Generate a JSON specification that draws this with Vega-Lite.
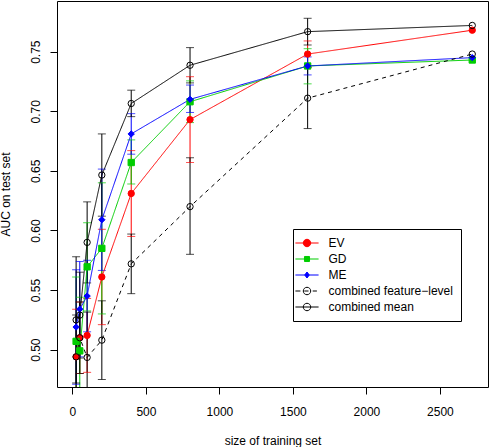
{
  "$schema": "https://vega.github.io/schema/vega-lite/v6.json",
  "width": 431,
  "height": 386,
  "autosize": "none",
  "padding": {"left": 57, "top": 1, "right": 1, "bottom": 60},
  "background": "white",
  "data": {"values": [
    {"s": "EV", "n": 25, "auc": 0.494, "lo": 0.454, "hi": 0.534},
    {"s": "EV", "n": 50, "auc": 0.510, "lo": 0.480, "hi": 0.540},
    {"s": "EV", "n": 100, "auc": 0.512, "lo": 0.481, "hi": 0.543},
    {"s": "EV", "n": 200, "auc": 0.561, "lo": 0.521, "hi": 0.601},
    {"s": "EV", "n": 400, "auc": 0.631, "lo": 0.595, "hi": 0.667},
    {"s": "EV", "n": 800, "auc": 0.693, "lo": 0.657, "hi": 0.729},
    {"s": "EV", "n": 1600, "auc": 0.748, "lo": 0.737, "hi": 0.759},
    {"s": "EV", "n": 2720, "auc": 0.768, "lo": null, "hi": null},
    {"s": "GD", "n": 25, "auc": 0.507, "lo": 0.453, "hi": 0.561},
    {"s": "GD", "n": 50, "auc": 0.499, "lo": 0.454, "hi": 0.544},
    {"s": "GD", "n": 100, "auc": 0.5695, "lo": 0.5325, "hi": 0.6065},
    {"s": "GD", "n": 200, "auc": 0.585, "lo": 0.530, "hi": 0.640},
    {"s": "GD", "n": 400, "auc": 0.657, "lo": 0.639, "hi": 0.676},
    {"s": "GD", "n": 800, "auc": 0.708, "lo": 0.6905, "hi": 0.7255},
    {"s": "GD", "n": 1600, "auc": 0.738, "lo": 0.723, "hi": 0.7525},
    {"s": "GD", "n": 2720, "auc": 0.743, "lo": null, "hi": null},
    {"s": "ME", "n": 25, "auc": 0.519, "lo": 0.471, "hi": 0.567},
    {"s": "ME", "n": 50, "auc": 0.534, "lo": 0.494, "hi": 0.574},
    {"s": "ME", "n": 100, "auc": 0.545, "lo": 0.515, "hi": 0.575},
    {"s": "ME", "n": 200, "auc": 0.609, "lo": 0.5665, "hi": 0.6515},
    {"s": "ME", "n": 400, "auc": 0.681, "lo": 0.664, "hi": 0.698},
    {"s": "ME", "n": 800, "auc": 0.710, "lo": 0.699, "hi": 0.722},
    {"s": "ME", "n": 1600, "auc": 0.738, "lo": 0.7305, "hi": 0.7456},
    {"s": "ME", "n": 2720, "auc": 0.745, "lo": null, "hi": null},
    {"s": "combined feature−level", "n": 25, "auc": 0.494, "lo": 0.459, "hi": 0.529},
    {"s": "combined feature−level", "n": 50, "auc": 0.510, "lo": 0.480, "hi": 0.540},
    {"s": "combined feature−level", "n": 100, "auc": 0.4935, "lo": 0.4555, "hi": 0.5315},
    {"s": "combined feature−level", "n": 200, "auc": 0.508, "lo": 0.475, "hi": 0.541},
    {"s": "combined feature−level", "n": 400, "auc": 0.572, "lo": 0.547, "hi": 0.597},
    {"s": "combined feature−level", "n": 800, "auc": 0.620, "lo": 0.580, "hi": 0.661},
    {"s": "combined feature−level", "n": 1600, "auc": 0.711, "lo": 0.6855, "hi": 0.737},
    {"s": "combined feature−level", "n": 2720, "auc": 0.748, "lo": null, "hi": null},
    {"s": "combined mean", "n": 25, "auc": 0.525, "lo": 0.472, "hi": 0.578},
    {"s": "combined mean", "n": 50, "auc": 0.529, "lo": 0.493, "hi": 0.565},
    {"s": "combined mean", "n": 100, "auc": 0.590, "lo": 0.556, "hi": 0.624},
    {"s": "combined mean", "n": 200, "auc": 0.6465, "lo": 0.612, "hi": 0.681},
    {"s": "combined mean", "n": 400, "auc": 0.7065, "lo": 0.6955, "hi": 0.7177},
    {"s": "combined mean", "n": 800, "auc": 0.7386, "lo": 0.7238, "hi": 0.7534},
    {"s": "combined mean", "n": 1600, "auc": 0.7668, "lo": 0.7556, "hi": 0.778},
    {"s": "combined mean", "n": 2720, "auc": 0.772, "lo": null, "hi": null}
  ]},
  "encoding": {
    "x": {"field": "n", "type": "quantitative", "title": "size of training set",
      "scale": {"domain": [-105, 2827], "nice": false, "zero": false},
      "axis": {"values": [0, 500, 1000, 1500, 2000, 2500], "format": "d"}}
  },
  "layer": [
    {
      "mark": {"type": "rule", "clip": true, "strokeWidth": 1},
      "encoding": {
        "y": {"field": "lo", "type": "quantitative", "title": "AUC on test set",
          "scale": {"domain": [0.4687, 0.7925], "nice": false, "zero": false},
          "axis": {"values": [0.5, 0.55, 0.6, 0.65, 0.7, 0.75], "format": ".2f"}},
        "y2": {"field": "hi"},
        "color": {"field": "s", "type": "nominal", "scale": {"domain": ["combined mean", "combined feature−level", "ME", "GD", "EV"], "range": ["#000000", "#000000", "#0000ff", "#00cd00", "#ff0000"]}, "legend": null}
      }
    },
    {
      "mark": {"type": "tick", "orient": "horizontal", "size": 8, "thickness": 1, "clip": true},
      "encoding": {
        "y": {"field": "lo", "type": "quantitative", "title": "AUC on test set", "scale": {"domain": [0.4687, 0.7925], "nice": false, "zero": false}},
        "color": {"field": "s", "type": "nominal", "scale": {"domain": ["combined mean", "combined feature−level", "ME", "GD", "EV"], "range": ["#000000", "#000000", "#0000ff", "#00cd00", "#ff0000"]}, "legend": null}
      }
    },
    {
      "mark": {"type": "tick", "orient": "horizontal", "size": 8, "thickness": 1, "clip": true},
      "encoding": {
        "y": {"field": "hi", "type": "quantitative", "title": "AUC on test set", "scale": {"domain": [0.4687, 0.7925], "nice": false, "zero": false}},
        "color": {"field": "s", "type": "nominal", "scale": {"domain": ["combined mean", "combined feature−level", "ME", "GD", "EV"], "range": ["#000000", "#000000", "#0000ff", "#00cd00", "#ff0000"]}, "legend": null}
      }
    },
    {
      "mark": {"type": "line", "clip": true, "strokeWidth": 1},
      "encoding": {
        "y": {"field": "auc", "type": "quantitative", "title": "AUC on test set", "scale": {"domain": [0.4687, 0.7925], "nice": false, "zero": false}},
        "stroke": {"field": "s", "type": "nominal",
          "scale": {"domain": ["EV", "GD", "ME", "combined feature−level", "combined mean"], "range": ["#ff0000", "#00cd00", "#0000ff", "#000000", "#000000"]},
          "legend": {
            "orient": "none", "legendX": 236, "legendY": 228, "title": null,
            "padding": 7.5, "strokeColor": "black", "fillColor": "white",
            "symbolSize": 144, "symbolStrokeWidth": 1, "labelFontSize": 12, "labelColor": "black",
            "labelFont": "Liberation Sans", "labelOffset": 15, "rowPadding": 3,
            "encode": {"symbols": {"update": {
              "shape": {"signal": "datum.value === 'EV' ? 'M-1.93,0H1.93M0.62,0A0.62,0.62 0 1,1 -0.62,0A0.62,0.62 0 1,1 0.62,0Z' : datum.value === 'GD' ? 'M-1.93,0H1.93M-0.42,-0.42H0.42V0.42H-0.42Z' : datum.value === 'ME' ? 'M-1.93,0H1.93M0,-0.5L0.38,0L0,0.5L-0.38,0Z' : datum.value === 'combined mean' ? 'M-1.93,0H1.93M0.62,0A0.62,0.62 0 1,1 -0.62,0A0.62,0.62 0 1,1 0.62,0Z' : 'M-1.93,0H-1.1M-0.45,0H0.25M0.95,0H1.65M0.62,0A0.62,0.62 0 1,1 -0.62,0A0.62,0.62 0 1,1 0.62,0Z'"},
              "fill": {"signal": "datum.value === 'EV' ? '#ff0000' : datum.value === 'GD' ? '#00cd00' : datum.value === 'ME' ? '#0000ff' : 'transparent'"},
              "stroke": {"signal": "datum.value === 'EV' ? '#ff0000' : datum.value === 'GD' ? '#00cd00' : datum.value === 'ME' ? '#0000ff' : '#000000'"},
              "strokeDash": {"value": []},
              "strokeWidth": {"value": 1},
              "opacity": {"value": 1},
              "size": {"value": 144}
            }}}
          }},
        "strokeDash": {"field": "s", "type": "nominal", "legend": null,
          "scale": {"domain": ["combined mean", "combined feature−level", "ME", "GD", "EV"], "range": [[1, 0], [4, 4], [1, 0], [1, 0], [1, 0]]}}
      }
    },
    {
      "mark": {"type": "point", "clip": true, "strokeWidth": 1, "opacity": 1},
      "encoding": {
        "y": {"field": "auc", "type": "quantitative", "title": "AUC on test set", "scale": {"domain": [0.4687, 0.7925], "nice": false, "zero": false}},
        "shape": {"field": "s", "type": "nominal", "legend": null,
          "scale": {"domain": ["combined mean", "combined feature−level", "ME", "GD", "EV"], "range": ["circle", "circle", "diamond", "square", "circle"]}},
        "fill": {"field": "s", "type": "nominal", "legend": null,
          "scale": {"domain": ["combined mean", "combined feature−level", "ME", "GD", "EV"], "range": ["transparent", "transparent", "#0000ff", "#00cd00", "#ff0000"]}},
        "stroke": {"field": "s", "type": "nominal",
          "scale": {"domain": ["EV", "GD", "ME", "combined feature−level", "combined mean"], "range": ["#ff0000", "#00cd00", "#0000ff", "#000000", "#000000"]}},
        "size": {"field": "s", "type": "ordinal", "legend": null,
          "scale": {"domain": ["combined mean", "combined feature−level", "ME", "GD", "EV"], "range": [40, 40, 25, 30, 38]}}
      }
    }
  ],
  "config": {
    "font": "Liberation Sans",
    "view": {"stroke": "black", "strokeWidth": 1},
    "axis": {"grid": false, "domain": false, "tickColor": "black", "tickSize": 7, "tickWidth": 1,
      "labelColor": "black", "labelFontSize": 12, "labelFont": "Liberation Sans", "labelFlush": false, "labelOverlap": false,
      "titleFontSize": 12, "titleFontWeight": "normal", "titleColor": "black", "titleFont": "Liberation Sans"},
    "axisX": {"labelPadding": 12, "titlePadding": 18},
    "axisY": {"labelAngle": -90, "labelAlign": "center", "labelBaseline": "bottom", "labelPadding": 8, "titlePadding": 17}
  }
}
